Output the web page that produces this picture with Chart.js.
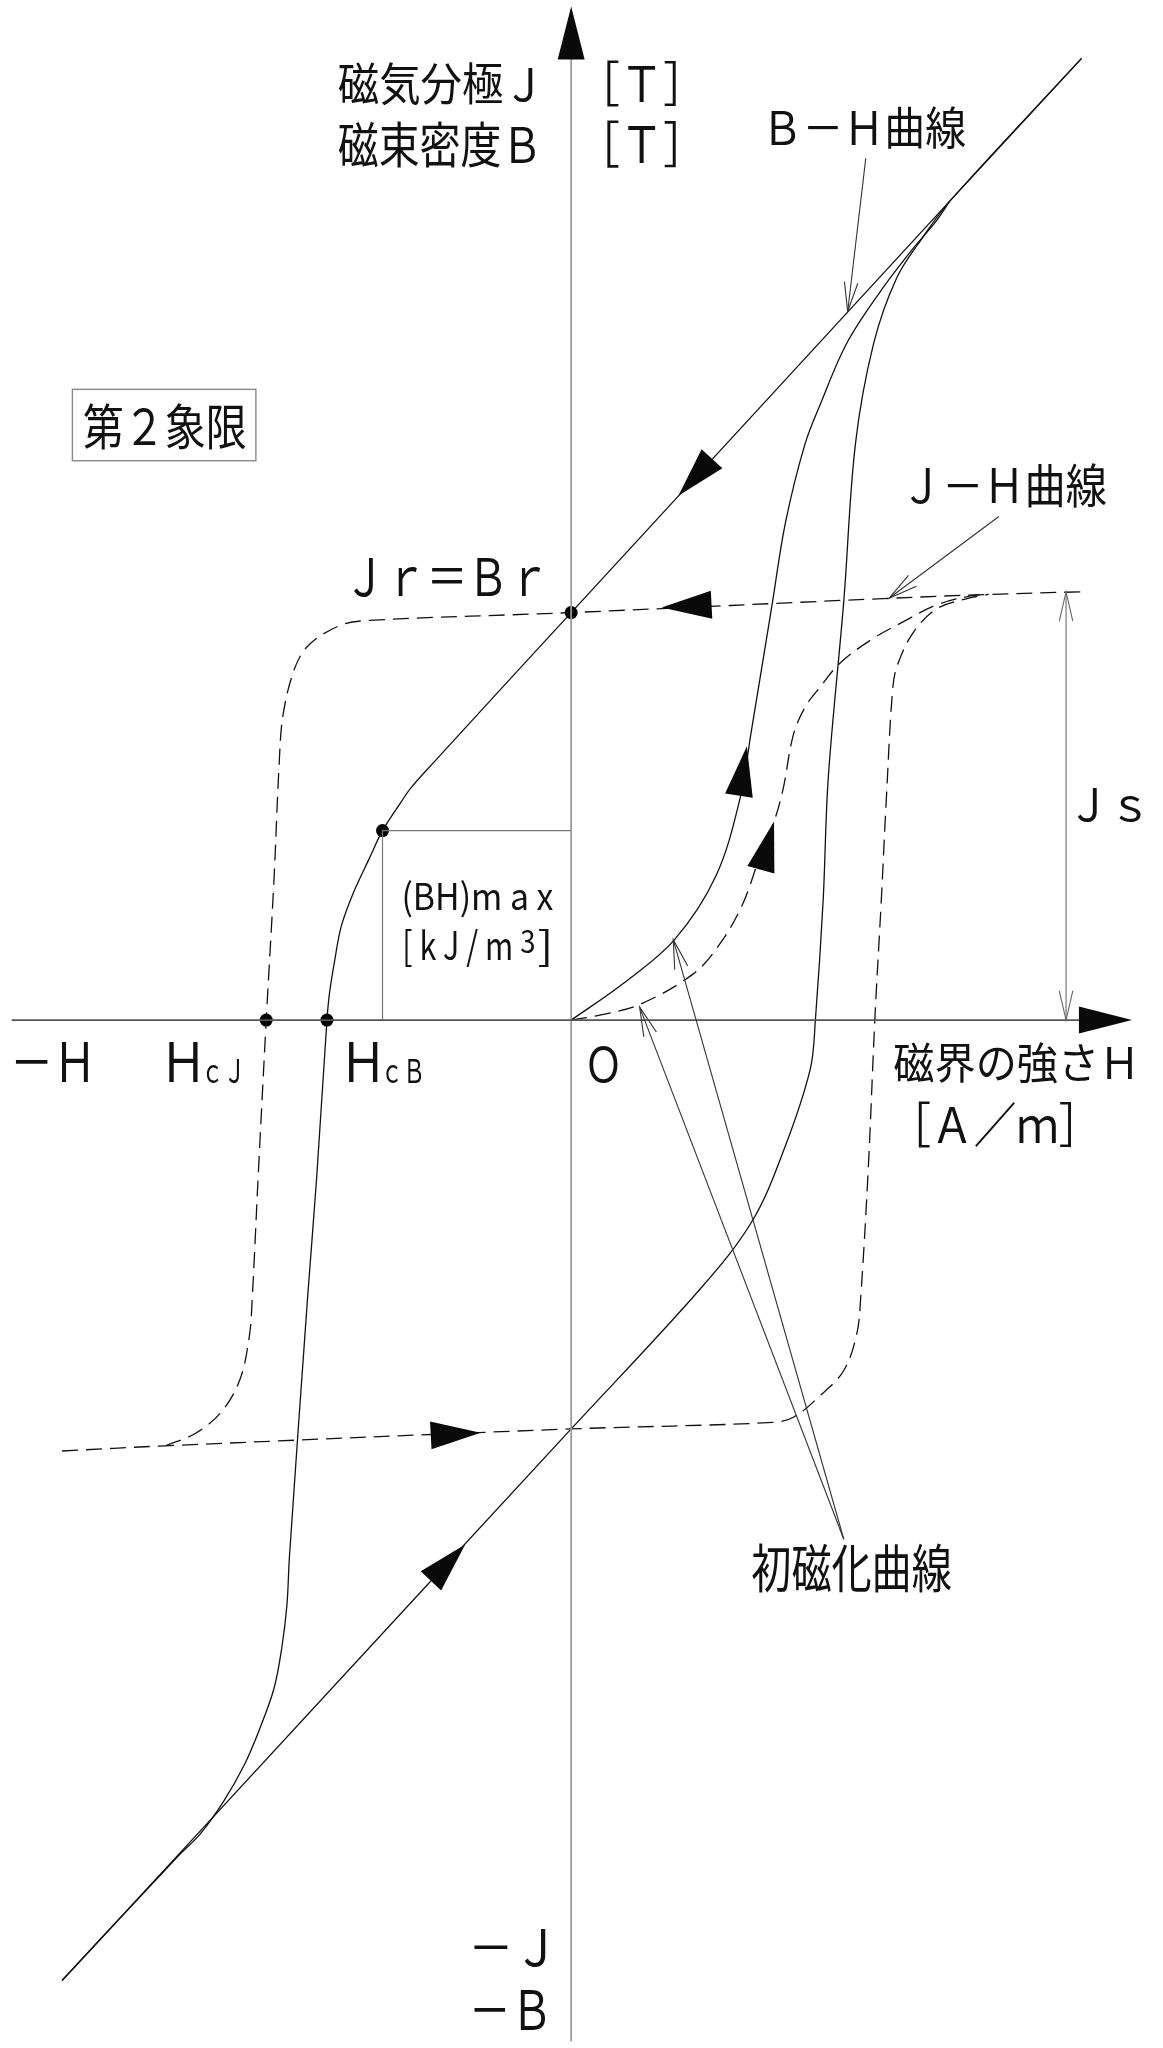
<!DOCTYPE html>
<html lang="ja">
<head>
<meta charset="utf-8">
<title>ヒステリシス曲線</title>
<script src="https://cdn.jsdelivr.net/npm/chart.js@4.4.1/dist/chart.umd.min.js"></script>
<style>
  html, body { margin:0; padding:0; background:#fff; }
  #hys { display:block; width:1163px; height:2048px; }
</style>
</head>
<body>
<canvas id="hys" width="1163" height="2048"></canvas>
<script>
// ── 軸範囲 (目盛なし・任意単位: H 横, J/B 縦) ──
const H_RANGE = [-4.37, 4.53];
const J_RANGE = [-7.87, 7.81];

// ── B-H 曲線 ──
const BH_DOWN = [
  [3.95, 7.41], [2.93, 6.31], [0.00, 3.14], [-1.06, 1.99], [-1.24, 1.79],
  [-1.31, 1.69], [-1.46, 1.46], [-1.56, 1.25], [-1.69, 0.97], [-1.78, 0.72],
  [-1.83, 0.46], [-1.87, 0.21], [-1.89, 0.00], [-1.97, -1.22], [-2.04, -2.14],
  [-2.18, -4.13], [-2.20, -4.51], [-2.24, -4.84], [-2.30, -5.15], [-2.41, -5.46],
  [-2.53, -5.74], [-2.69, -6.02], [-2.87, -6.27], [-3.05, -6.45], [-3.94, -7.40]
];
const BH_UP = [
  [-3.94, -7.40], [-2.90, -6.28], [0.00, -3.15], [1.00, -2.07], [1.40, -1.55],
  [1.65, -0.99], [1.85, -0.38], [1.89, 0.00], [1.95, 0.92], [1.99, 1.87],
  [2.11, 3.23], [2.20, 4.44], [2.34, 5.21], [2.52, 5.72], [2.72, 6.03],
  [2.93, 6.31], [3.95, 7.41]
];
const INIT_B = [
  [0, 0], [0.40, 0.28], [0.80, 0.62], [1.12, 1.11], [1.31, 1.72], [1.39, 2.20],
  [1.55, 3.17], [1.66, 3.84], [1.81, 4.44], [1.93, 4.75], [2.13, 5.21], [2.39, 5.61],
  [2.65, 5.95], [2.82, 6.15], [2.93, 6.31]
];

// ── J-H 曲線 (破線) ──
const JH_DOWN = [
  [3.94, 3.30], [3.23, 3.28], [2.46, 3.25], [0.00, 3.14], [-1.56, 3.08],
  [-1.79, 3.04], [-2.03, 2.89], [-2.14, 2.71], [-2.23, 2.35], [-2.26, 1.97],
  [-2.30, 1.08], [-2.36, 0.00], [-2.42, -1.16], [-2.47, -2.18], [-2.49, -2.43],
  [-2.56, -2.76], [-2.70, -3.01], [-2.90, -3.18], [-3.14, -3.28]
];
const JH_UP = [
  [-3.94, -3.32], [-3.14, -3.28], [0.00, -3.15], [1.56, -3.10], [1.72, -3.06],
  [1.92, -2.90], [2.11, -2.70], [2.21, -2.42], [2.24, -2.15], [2.30, -1.13],
  [2.35, 0.00], [2.40, 0.92], [2.44, 1.72], [2.49, 2.57], [2.53, 2.75],
  [2.65, 2.99], [2.83, 3.17], [3.07, 3.25], [3.23, 3.28]
];
const INIT_J = [
  [0, 0], [0.23, 0.04], [0.53, 0.12], [0.95, 0.36], [1.16, 0.60], [1.33, 0.90],
  [1.45, 1.23], [1.57, 1.53], [1.64, 1.78], [1.72, 2.20], [1.81, 2.41], [1.93, 2.57],
  [2.08, 2.75], [2.32, 2.93], [2.59, 3.08], [2.83, 3.20], [3.10, 3.27], [3.23, 3.28]
];

// ── 特性点: Br, (BH)max, HcB, HcJ ──
const DOTS = [[0, 3.14], [-1.46, 1.46], [-1.89, 0], [-2.36, 0]];
const BHMAX_BOX = [[0, 1.46], [-1.46, 1.46], [-1.46, 0]];
const JS_DIM = [[3.83, 3.30], [3.83, 0]];
const AXIS_H = [[-4.33, 0], [4.20, 0]];
const AXIS_V = [[0, -7.87], [0, 7.60]];

// ── 矢印 (先端 / 向きの元) ──
const HEAD_TIP  = [[0.83, 4.04], [0.70, 3.18], [1.36, 2.11], [1.57, 1.53], [-0.70, -3.18], [-0.82, -4.04]];
const HEAD_FROM = [[1.085, 4.32], [1.09, 3.20], [1.30, 1.74], [1.47, 1.165], [-1.09, -3.20], [-1.085, -4.32]];
const AXIS_TIP  = [[4.34, 0], [0, 7.81]];
const AXIS_FROM = [[3.93, 0], [0, 7.41]];

// ── 引出線 ──
const LEADER_FROM = [[2.28, 6.64], [3.31, 3.88], [2.11, -4.00], [2.11, -4.00]];
const LEADER_TO   = [[2.14, 5.46], [2.46, 3.25], [0.79, 0.62], [0.53, 0.10]];

// ── 文字 (文字列, 左, 上, 右, 下) ──
const LABELS = [
  ['磁気分極Ｊ', -1.80, 7.375, -0.30, 7.045],
  ['［Ｔ］', 0.28, 7.39, 0.81, 7.04],
  ['磁束密度Ｂ', -1.80, 6.92, -0.28, 6.57],
  ['［Ｔ］', 0.28, 6.93, 0.81, 6.57],
  ['Ｂ－Ｈ曲線', 1.55, 7.04, 3.05, 6.71],
  ['第２象限', -3.77, 4.76, -2.52, 4.40],
  ['Ｊ－Ｈ曲線', 2.63, 4.29, 4.14, 3.95],
  ['Ｊｒ＝Ｂｒ', -1.68, 3.56, -0.24, 3.26],
  ['Ｊｓ', 3.92, 1.79, 4.41, 1.53],
  ['(BH)m a x', -1.29, 1.08, -0.14, 0.79],
  ['[ k J / m', -1.283, 0.706, -0.467, 0.412],
  ['3', -0.39, 0.693, -0.288, 0.514],
  [']', -0.25, 0.706, -0.174, 0.412],
  ['－Ｈ', -4.30, -0.17, -3.74, -0.48],
  ['Ｈ', -3.11, -0.17, -2.89, -0.48],
  ['ｃＪ', -2.82, -0.30, -2.57, -0.49],
  ['Ｈ', -1.72, -0.17, -1.50, -0.48],
  ['ｃＢ', -1.43, -0.30, -1.16, -0.49],
  ['Ｏ', 0.14, -0.20, 0.36, -0.48],
  ['磁界の強さＨ', 2.50, -0.17, 4.34, -0.49],
  ['［Ａ／ｍ］', 2.69, -0.63, 3.87, -0.98],
  ['初磁化曲線', 1.40, -4.03, 2.94, -4.41],
  ['－Ｊ', -0.75, -7.00, -0.20, -7.29],
  ['－Ｂ', -0.75, -7.47, -0.20, -7.78]
];
const BOX_Q2 = [-3.86, 4.86, -2.44, 4.31];

const FONT = '"Noto Sans CJK JP", "Noto Sans", sans-serif';
const INK = '#111';

/* 文字を墨の外形ごと枠に合わせて描く */
function fitText(ctx, s, x1, y1, x2, y2) {
  ctx.save();
  ctx.font = '100px ' + FONT;
  ctx.textAlign = 'left';
  ctx.textBaseline = 'alphabetic';
  const m = ctx.measureText(s);
  const w = m.actualBoundingBoxLeft + m.actualBoundingBoxRight;
  const h = m.actualBoundingBoxAscent + m.actualBoundingBoxDescent;
  ctx.translate(x1, y1);
  ctx.scale((x2 - x1) / w, (y2 - y1) / h);
  ctx.fillStyle = INK;
  ctx.fillText(s, m.actualBoundingBoxLeft, m.actualBoundingBoxAscent);
  ctx.restore();
}

function solidHead(ctx, t, f, len, half) {
  const a = Math.atan2(t[1] - f[1], t[0] - f[0]);
  const bx = t[0] - len * Math.cos(a), by = t[1] - len * Math.sin(a);
  ctx.beginPath();
  ctx.moveTo(t[0], t[1]);
  ctx.lineTo(bx + half * Math.sin(a), by - half * Math.cos(a));
  ctx.lineTo(bx - half * Math.sin(a), by + half * Math.cos(a));
  ctx.closePath();
  ctx.fill();
}

function openHead(ctx, t, f, len, deg) {
  const a = Math.atan2(t[1] - f[1], t[0] - f[0]);
  const d = deg * Math.PI / 180;
  ctx.beginPath();
  ctx.moveTo(t[0] - len * Math.cos(a - d), t[1] - len * Math.sin(a - d));
  ctx.lineTo(t[0], t[1]);
  ctx.lineTo(t[0] - len * Math.cos(a + d), t[1] - len * Math.sin(a + d));
  ctx.stroke();
}

const drawing = {
  id: 'drawing',
  afterDatasetsDraw(chart) {
    const { ctx, scales: { x, y } } = chart;
    const px = p => [x.getPixelForValue(p[0]), y.getPixelForValue(p[1])];
    ctx.save();

    // 塗りつぶし矢印
    ctx.fillStyle = '#0a0a0a';
    HEAD_TIP.forEach((t, i) => solidHead(ctx, px(t), px(HEAD_FROM[i]), 50, 14));
    AXIS_TIP.forEach((t, i) => solidHead(ctx, px(t), px(AXIS_FROM[i]), 53, 13.5));

    // 引出線
    ctx.strokeStyle = '#333';
    ctx.lineWidth = 1.1;
    LEADER_FROM.forEach((f, i) => {
      const a = px(f), b = px(LEADER_TO[i]);
      ctx.beginPath(); ctx.moveTo(a[0], a[1]); ctx.lineTo(b[0], b[1]); ctx.stroke();
      openHead(ctx, b, a, 30, 13);
    });
    // Js 寸法矢印
    ctx.strokeStyle = '#666';
    openHead(ctx, px(JS_DIM[0]), px(JS_DIM[1]), 30, 13);
    openHead(ctx, px(JS_DIM[1]), px(JS_DIM[0]), 30, 13);

    // 第2象限の枠
    const b1 = px([BOX_Q2[0], BOX_Q2[1]]), b2 = px([BOX_Q2[2], BOX_Q2[3]]);
    ctx.strokeStyle = '#888';
    ctx.lineWidth = 1.4;
    ctx.strokeRect(b1[0], b1[1], b2[0] - b1[0], b2[1] - b1[1]);

    // 文字
    LABELS.forEach(([s, x1, y1, x2, y2]) => {
      const p1 = px([x1, y1]), p2 = px([x2, y2]);
      fitText(ctx, s, p1[0], p1[1], p2[0], p2[1]);
    });
    ctx.restore();
  }
};

const line = (pts, opt) => Object.assign({
  data: pts.map(([x, y]) => ({ x, y })),
  showLine: true, fill: false, pointRadius: 0,
  borderColor: INK, borderWidth: 1.3, tension: 0
}, opt);

const DASH = [16, 8];

new Chart(document.getElementById('hys'), {
  type: 'scatter',
  data: { datasets: [
    line(AXIS_H, { borderColor: '#555', borderWidth: 1.6 }),
    line(AXIS_V, { borderColor: '#9a9a9a', borderWidth: 1.8 }),
    line(BHMAX_BOX, { borderColor: '#777', borderWidth: 1.2 }),
    line(JS_DIM, { borderColor: '#777', borderWidth: 1.2 }),
    line(BH_DOWN, { tension: 0.35 }),
    line(BH_UP, { tension: 0.35 }),
    line(INIT_B, { tension: 0.35 }),
    line(JH_DOWN, { tension: 0.35, borderDash: DASH }),
    line(JH_UP, { tension: 0.35, borderDash: DASH }),
    line(INIT_J, { tension: 0.35, borderDash: DASH }),
    { data: DOTS.map(([x, y]) => ({ x, y })), showLine: false,
      pointRadius: 6.5, pointBackgroundColor: '#000', pointBorderColor: '#000', pointBorderWidth: 0 }
  ]},
  options: {
    responsive: false, animation: false, devicePixelRatio: 1, events: [],
    layout: { padding: 0 },
    plugins: { legend: { display: false }, tooltip: { enabled: false } },
    scales: {
      x: { type: 'linear', min: H_RANGE[0], max: H_RANGE[1], display: false },
      y: { type: 'linear', min: J_RANGE[0], max: J_RANGE[1], display: false }
    }
  },
  plugins: [drawing]
});
</script>
</body>
</html>
